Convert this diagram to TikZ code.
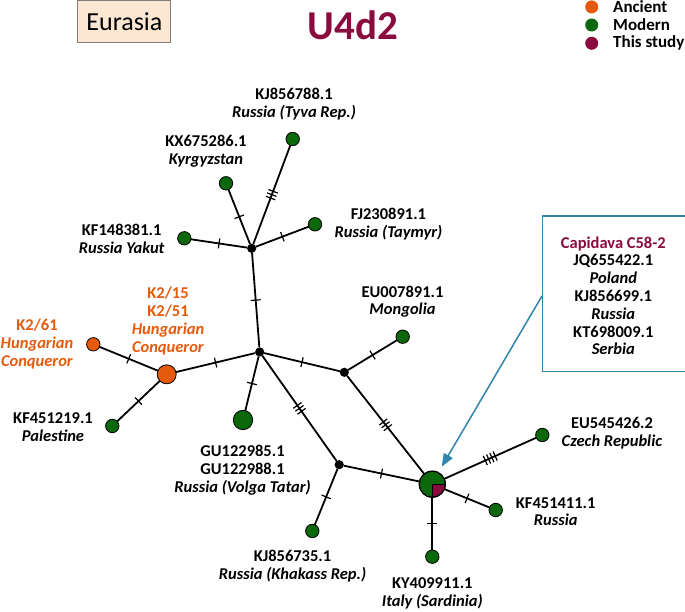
\documentclass[tikz,border=0pt]{standalone}
\usepackage{fontspec}
\setmainfont{Carlito}
\usetikzlibrary{decorations.markings,arrows.meta}
\definecolor{anc}{HTML}{E65A0E}
\definecolor{mod}{HTML}{0B680B}
\definecolor{thisst}{HTML}{8A0B3E}
\definecolor{arrblue}{HTML}{2E86AB}
\definecolor{eurfill}{HTML}{FCE8D2}
\definecolor{eurline}{HTML}{7F7F7F}
\tikzset{
  hap/.style={circle, draw=black, line width=0.8pt, inner sep=0pt, outer sep=0pt},
  gnode/.style={hap, fill=mod, minimum size=13.4pt},
  onode/.style={hap, fill=anc, minimum size=13.4pt},
  hub/.style={circle, fill=black, inner sep=0pt, outer sep=0pt, minimum size=9.2pt},
  link/.style={line width=1.8pt},
  tk/.style={line width=1.2pt},
  t1/.style={postaction={decorate,decoration={markings,
     mark=at position 0.5 with {\draw[tk] (0pt,-5pt)--(0pt,5pt);}}}},
  t3/.style={postaction={decorate,decoration={markings,
     mark=at position 0.5 with {\draw[tk] (-3.6pt,-5pt)--(-3.6pt,5pt) (0pt,-5pt)--(0pt,5pt) (3.6pt,-5pt)--(3.6pt,5pt);}}}},
  t4/.style={postaction={decorate,decoration={markings,
     mark=at position 0.5 with {\draw[tk] (-5.4pt,-5pt)--(-5.4pt,5pt) (-1.8pt,-5pt)--(-1.8pt,5pt) (1.8pt,-5pt)--(1.8pt,5pt) (5.4pt,-5pt)--(5.4pt,5pt);}}}},
  lab/.style={align=center, inner sep=0pt, font=\fontsize{16.5}{17.8}\selectfont\bfseries},
  olab/.style={lab, text=anc},
  legtxt/.style={anchor=west, inner sep=0pt, font=\fontsize{17}{18}\selectfont\bfseries},
  legdot/.style={circle, inner sep=0pt, minimum size=13pt},
}
\begin{document}
\begin{tikzpicture}[x=1pt,y=-1pt]
\useasboundingbox (0,0) rectangle (685,612);

% header
\node[draw=eurline, line width=1pt, fill=eurfill, minimum width=93pt, minimum height=41.6pt,
      inner sep=0pt, font=\fontsize{26}{30}\selectfont] (eur) at (124.4,21.5) {Eurasia};
\node[text=thisst, inner sep=0pt, font=\fontsize{41}{45}\selectfont\bfseries] (title) at (353,25) {U4d2};

% legend
\node[legdot, fill=anc] (lg1) at (591.7,6.9) {};
\node[legdot, fill=mod] (lg2) at (591.7,25) {};
\node[legdot, fill=thisst] (lg3) at (591.7,43.3) {};
\node[legtxt] (lt1) at (613,6.9) {Ancient};
\node[legtxt] (lt2) at (613,25) {Modern};
\node[legtxt] (lt3) at (613,43.3) {This study};

% haplotype nodes
\node[hub] (h1) at (251.7,248.3) {};
\node[hub] (h2) at (259.7,352) {};
\node[hub] (h3) at (344.3,372.3) {};
\node[hub] (h4) at (339.2,464.7) {};
\node[gnode] (n1) at (292.7,139) {};
\node[gnode] (n2) at (226,183.3) {};
\node[gnode] (n3) at (315,224.3) {};
\node[gnode] (n4) at (184.3,238.3) {};
\node[onode] (n5) at (93.3,344.3) {};
\node[onode, minimum size=19pt] (n6) at (166.7,374.3) {};
\node[gnode] (n7) at (112.3,426) {};
\node[gnode, minimum size=19.4pt] (n8) at (243,420) {};
\node[gnode] (n9) at (402.7,336.7) {};
\node[gnode] (n10) at (542.3,435) {};
\node[gnode] (n11) at (495.7,510) {};
\node[gnode] (n12) at (432.3,556.7) {};
\node[gnode] (n13) at (312.3,531) {};
\node[gnode, minimum size=26.6pt] (main) at (432.3,484.2) {};
\fill[thisst] (main.center) -- ++(12.9,0) arc[start angle=0, end angle=90, radius=12.9] -- cycle;
\draw[line width=0.7pt] (main.center) -- ++(12.9,0) (main.center) -- ++(0,12.9);
\draw[line width=0.8pt] (main.center) circle[radius=12.9];

% connectors
\draw[link,t3] (h1) -- (n1);
\draw[link,t1] (h1) -- (n2);
\draw[link,t1] (h1) -- (n3);
\draw[link,t1] (h1) -- (n4);
\draw[link,t1] (h1) -- (h2);
\draw[link,t1] (h2) -- (n6);
\draw[link,t1] (n6) -- (n5);
\draw[link,t1] (n6) -- (n7);
\draw[link,t1] (h2) -- (n8);
\draw[link,t1] (h2) -- (h3);
\draw[link,t1] (h3) -- (n9);
\draw[link,t3] (h2) -- (h4);
\draw[link,t3] (h3) -- (main);
\draw[link,t1] (h4) -- (main);
\draw[link,t1] (h4) -- (n13);
\draw[link,t4] (main) -- (n10);
\draw[link,t1] (main) -- (n11);
\draw[link,t1] (main) -- (n12);

% labels
\node[lab] (l1) at (294,104) {KJ856788.1\\\textit{Russia (Tyva Rep.)}};
\node[lab] (l2) at (206,151.5) {KX675286.1\\\textit{Kyrgyzstan}};
\node[lab] (l3) at (121.7,239) {KF148381.1\\\textit{Russia Yakut}};
\node[lab] (l4) at (388.5,224) {FJ230891.1\\\textit{Russia (Taymyr)}};
\node[lab] (l5) at (402.5,301.7) {EU007891.1\\\textit{Mongolia}};
\node[olab] (l6) at (168,321) {K2/15\\K2/51\\\textit{Hungarian}\\\textit{Conqueror}};
\node[olab] (l7) at (37,344) {K2/61\\\textit{Hungarian}\\\textit{Conqueror}};
\node[lab] (l8) at (53,427) {KF451219.1\\\textit{Palestine}};
\node[lab] (l9) at (242.5,470.3) {GU122985.1\\GU122988.1\\\textit{Russia (Volga Tatar)}};
\node[lab] (l10) at (292.5,566.2) {KJ856735.1\\\textit{Russia (Khakass Rep.)}};
\node[lab] (l11) at (432.3,593.7) {KY409911.1\\\textit{Italy (Sardinia)}};
\node[lab] (l12) at (555.7,511.7) {KF451411.1\\\textit{Russia}};
\node[lab] (l13) at (612,433) {EU545426.2\\\textit{Czech Republic}};

% callout box
\node[draw=arrblue, line width=1.3pt, minimum width=143.6pt, minimum height=155.6pt, inner sep=0pt] (capbox) at (614.5,293.9) {};
\node[lab] (captxt) at (613.3,295.7) {\textcolor{thisst}{Capidava C58-2}\\JQ655422.1\\\textit{Poland}\\KJ856699.1\\\textit{Russia}\\KT698009.1\\\textit{Serbia}};
\coordinate (tip) at (441.7,466.7);
\draw[arrblue, line width=1.5pt, -{Triangle[length=13pt,width=10pt]}] ([yshift=-2pt]capbox.west) -- (tip);
\end{tikzpicture}
\end{document}
